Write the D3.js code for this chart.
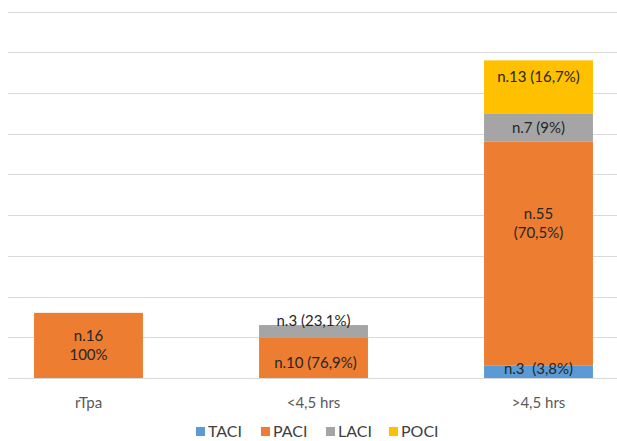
<!DOCTYPE html>
<html>
<head>
<meta charset="utf-8">
<script src="https://cdn.jsdelivr.net/npm/d3@7"></script>
<style>
  body { margin: 0; background: #fff; }
  svg { display: block; font-family: Lato, "Open Sans", sans-serif; }
  text { white-space: pre; }
</style>
</head>
<body>
<svg id="chart" width="617" height="441"></svg>
<script>
// data
const categories = ['rTpa', '<4,5 hrs', '>4,5 hrs'];
const seriesNames = ['TACI', 'PACI', 'LACI', 'POCI'];
const TACI = [0, 0, 3];
const PACI = [16, 10, 55];
const LACI = [0, 3, 7];
const POCI = [0, 0, 13];
const labels = {
  TACI: [null, null, ['n.3  (3,8%)']],
  PACI: [['n.16', '100%'], ['n.10 (76,9%)'], ['n.55', '(70,5%)']],
  LACI: [null, ['n.3 (23,1%)'], ['n.7 (9%)']],
  POCI: [null, null, ['n.13 (16,7%)']]
};
const yTicks = d3.range(0, 100, 10);

const colors = { TACI: '#5b9bd5', PACI: '#ed7d31', LACI: '#a5a5a5', POCI: '#ffc000' };

// small label nudges (px) so text sits where Excel put it
const nudge = {
  'LACI-1': [0, -10], 'PACI-1': [2, 5], 'POCI-2': [0, -10], 'PACI-2': [0, -31], 'TACI-2': [0, -3]
};

const svg = d3.select('#chart');
const x = d3.scaleBand().domain(categories).range([-24, 651]).paddingInner(0.516).paddingOuter(0.258);
const y = d3.scaleLinear().domain([0, 90]).range([378, 11.5]);

// gridlines
svg.append('g')
  .selectAll('line')
  .data(yTicks)
  .join('line')
  .attr('x1', 8).attr('x2', 617)
  .attr('y1', d => Math.round(y(d)) + 0.5).attr('y2', d => Math.round(y(d)) + 0.5)
  .attr('stroke', '#d9d9d9').attr('stroke-width', 1);

const table = categories.map((c, i) => ({ cat: c, TACI: TACI[i], PACI: PACI[i], LACI: LACI[i], POCI: POCI[i] }));
const stacked = d3.stack().keys(seriesNames)(table);

const layers = svg.append('g').selectAll('g')
  .data(stacked)
  .join('g')
  .attr('fill', d => colors[d.key]);

layers.selectAll('rect')
  .data(d => d.filter(s => s[1] - s[0] > 0))
  .join('rect')
  .attr('x', d => x(d.data.cat))
  .attr('width', x.bandwidth())
  .attr('y', d => y(d[1]))
  .attr('height', d => y(d[0]) - y(d[1]));

// data labels
stacked.forEach(layer => {
  layer.forEach((s, i) => {
    const lines = labels[layer.key][i];
    if (!lines) return;
    const off = nudge[layer.key + '-' + i] || [0, 0];
    const cx = x(categories[i]) + x.bandwidth() / 2 + off[0];
    const cy = (y(s[0]) + y(s[1])) / 2 + off[1];
    const lh = 19;
    const t = svg.append('text')
      .attr('text-anchor', 'middle')
      .attr('fill', '#262626')
      .attr('font-size', 15);
    lines.forEach((ln, k) => {
      t.append('tspan')
        .attr('x', cx)
        .attr('y', cy + (k - (lines.length - 1) / 2) * lh)
        .attr('dy', '0.35em')
        .text(ln);
    });
  });
});

// x axis labels
const xAxis = d3.axisBottom(x).tickSize(0).tickPadding(0);
svg.append('g')
  .attr('transform', 'translate(0,397)')
  .call(xAxis)
  .call(g => g.select('.domain').remove())
  .call(g => g.selectAll('text').attr('font-size', 15).attr('fill', '#595959').attr('font-family', 'Lato, sans-serif'));

// legend
const legendX = [196, 261, 326, 389];
const legend = svg.append('g').attr('transform', 'translate(0,431)');
seriesNames.forEach((k, i) => {
  legend.append('rect')
    .attr('x', legendX[i]).attr('y', -4).attr('width', 9).attr('height', 9)
    .attr('fill', colors[k]);
  legend.append('text')
    .attr('x', legendX[i] + 12).attr('y', 0).attr('dy', '0.35em')
    .attr('font-size', 16).attr('fill', '#404040')
    .text(k);
});
</script>
</body>
</html>
